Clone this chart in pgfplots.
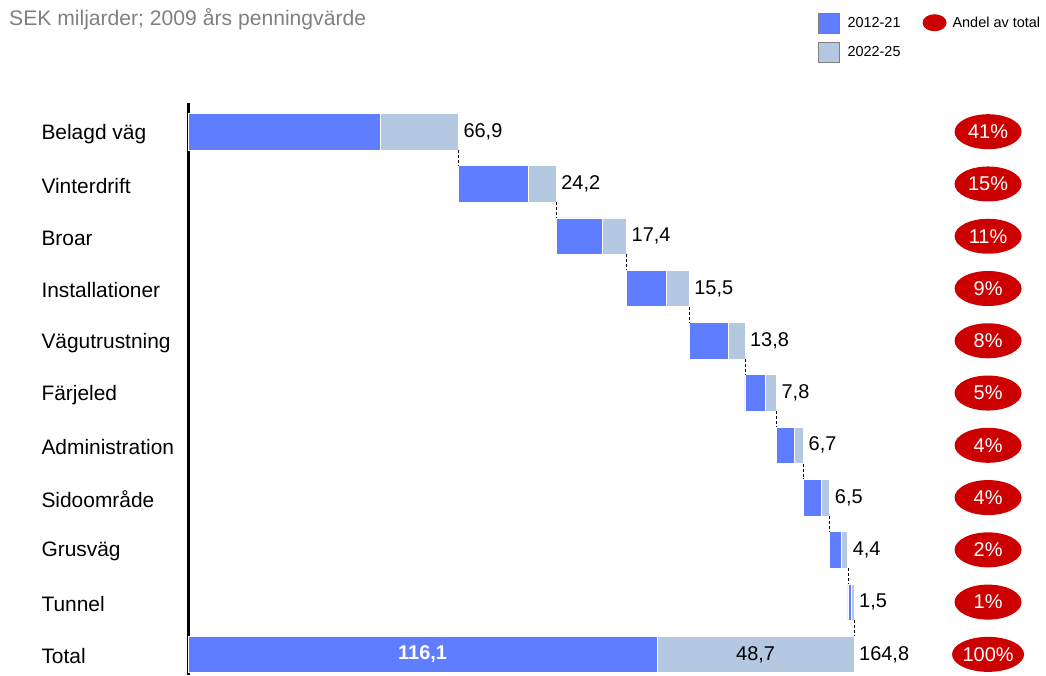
\documentclass[border=0pt]{standalone}
\usepackage{pgfplots}
\pgfplotsset{compat=1.18}
\usepackage{pgfplotstable}
\usepackage{fontspec}
\setmainfont{Liberation Sans}
\usetikzlibrary{shapes.geometric}
\definecolor{cblue}{RGB}{95,125,255}
\definecolor{clight}{RGB}{180,200,226}
\definecolor{cred}{RGB}{204,0,0}
\definecolor{cgray}{RGB}{128,128,128}

\pgfplotstableread{
y off blue light e lab
0 0 47.5 19.4 66.9 66,9
1 66.9 17.3 6.9 91.1 24,2
2 91.1 11.4 6.0 108.5 17,4
3 108.5 9.9 5.6 124.0 15,5
4 124.0 9.6 4.2 137.8 13,8
5 137.8 5.1 2.7 145.6 7,8
6 145.6 4.5 2.2 152.3 6,7
7 152.3 4.4 2.1 158.8 6,5
8 158.8 2.9 1.5 163.2 4,4
9 163.3 0.8 0.7 164.8 1,5
10 0 116.1 48.7 164.8 164,8
}\bars

\pgfplotstableread{
y x pct
0 197.97 41
1 197.97 15
2 197.97 11
3 197.97 9
4 197.97 8
5 197.97 5
6 197.97 4
7 197.97 4
8 197.97 2
9 197.97 1
10 197.97 100
}\pcts

\pgfplotstableread{
x y
66.9 0.349
66.9 0.651
66.9 nan
91.1 1.349
91.1 1.651
91.1 nan
108.5 2.349
108.5 2.651
108.5 nan
124.0 3.349
124.0 3.651
124.0 nan
137.8 4.349
137.8 4.651
137.8 nan
145.6 5.349
145.6 5.651
145.6 nan
152.3 6.349
152.3 6.651
152.3 nan
158.8 7.349
158.8 7.651
158.8 nan
163.3 8.349
163.3 8.651
163.3 nan
164.8 9.349
164.8 9.651
}\conn

\pgfplotsset{base/.style={
  x=4.041bp, y=52.26bp, xmin=0, xmax=212, ymin=-0.549, ymax=10.396, y dir=reverse,
  at={(0,0)}, anchor=south west, clip=false,
}}

\begin{document}
\begin{tikzpicture}
\begin{axis}[base, xbar stacked, bar width=36.5bp,
  axis x line=none, axis y line*=left, y axis line style={line width=3bp, -},
  ytick={0,...,10},
  yticklabels={Belagd väg, Vinterdrift, Broar, Installationer, Vägutrustning, Färjeled, Administration, Sidoområde, Grusväg, Tunnel, Total},
  major tick length=0pt,
  yticklabel style={anchor=west, xshift=-150bp, yshift=-2bp, font=\fontsize{21}{24}\selectfont},
]
\addplot[draw=none, fill=none, forget plot] table[x=off, y=y] {\bars};
\addplot[fill=cblue, draw=white, line width=0.6bp] table[x=blue, y=y] {\bars};
\addplot[fill=clight, draw=white, line width=0.6bp] table[x=light, y=y] {\bars};
\coordinate (tl) at (axis cs:-46.52,-2.520);
\coordinate (br) at (axis cs:212.3,10.396);
\end{axis}

\begin{axis}[base, hide axis,
  legend columns=2,
  legend cell align=left,
  legend style={draw=none, fill=none, at={(0.732,1.162)}, anchor=north west,
    font=\fontsize{14.5}{17}\selectfont,
    /tikz/every even column/.append style={column sep=20bp}, row sep=9bp},
]
\addlegendimage{legend image code/.code={\draw[fill=cblue, draw=gray] (0bp,-10bp) rectangle (21bp,10bp); \path[draw=none, fill=none] (0bp,0bp) -- (27bp,0bp);}}
\addlegendentry{2012-21}
\addlegendimage{legend image code/.code={\fill[cred, draw=none] (12bp,0bp) ellipse [x radius=12bp, y radius=8.5bp]; \path[draw=none, fill=none] (0bp,0bp) -- (28bp,0bp);}}
\addlegendentry{Andel av total}
\addlegendimage{legend image code/.code={\draw[fill=clight, draw=gray] (0bp,-10bp) rectangle (21bp,10bp); \path[draw=none, fill=none] (0bp,0bp) -- (27bp,0bp);}}
\addlegendentry{2022-25}

\addplot[forget plot, black, densely dashed, line width=0.6bp, unbounded coords=jump] table[x=x, y=y] {\conn};

\addplot[forget plot, draw=none, mark=none, nodes near coords, point meta=explicit symbolic,
  nodes near coords style={anchor=west, text=black, inner sep=0pt, xshift=5bp, font=\fontsize{20}{24}\selectfont}]
  table[x=e, y=y, meta=lab] {\bars};

\addplot[forget plot, draw=none, mark=none, nodes near coords={\pgfplotspointmeta\%}, point meta=explicit symbolic,
  nodes near coords style={ellipse, fill=cred, text=white, anchor=center, minimum width=67bp, minimum height=35bp, inner sep=0pt, font=\fontsize{20}{24}\selectfont}]
  table[x=x, y=y, meta=pct] {\pcts};

\addplot[forget plot, draw=none, mark=none, nodes near coords, point meta=explicit symbolic,
  nodes near coords style={anchor=center, text=white, font=\fontsize{20}{24}\selectfont\bfseries}]
  coordinates {(58.05,10) [{116,1}]};
\addplot[forget plot, draw=none, mark=none, nodes near coords, point meta=explicit symbolic,
  nodes near coords style={anchor=center, text=black, font=\fontsize{20}{24}\selectfont}]
  coordinates {(140.45,10) [{48,7}]};

\node[anchor=base west, inner sep=0pt, text=cgray, font=\fontsize{21.2}{25}\selectfont] at (axis cs:-44.3,-2.023) {SEK miljarder; 2009 års penningvärde};
\end{axis}
\pgfresetboundingbox
\path[use as bounding box] (tl) rectangle (br);
\end{tikzpicture}
\end{document}
